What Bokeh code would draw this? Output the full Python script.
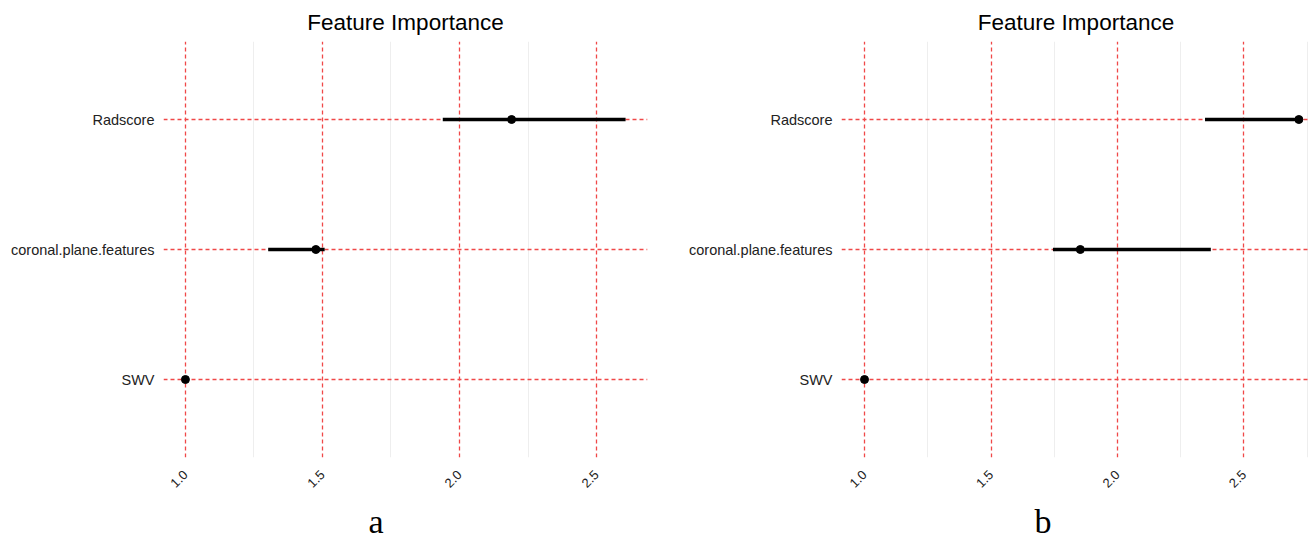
import math
from bokeh.plotting import figure
from bokeh.models import Range1d, FixedTicker, Title, ColumnDataSource, PrintfTickFormatter
from bokeh.layouts import row
from bokeh.embed import file_html
from bokeh.resources import INLINE

# ---- data ----
features = ["SWV", "coronal.plane.features", "Radscore"]
feature_pos = [1, 2, 3]

a_importance = [1.0, 1.476, 2.19]
a_lower = [1.0, 1.302, 1.939]
a_upper = [1.0, 1.508, 2.606]

b_importance = [1.0, 1.853, 2.717]
b_lower = [1.0, 1.745, 2.346]
b_upper = [1.0, 2.369, 2.717]

x_ticks = [1.0, 1.5, 2.0, 2.5]
x_minor = [1.25, 1.75, 2.25, 2.75]
panel_labels = ["a", "b"]
title_text = "Feature Importance"

RED = "#f04848"
SANS = "Liberation Sans"


def make_panel(imp, lo, hi, x_start, x_end, border_left, frame_w, border_right, label, label_offset):
    src = ColumnDataSource(dict(y=feature_pos, imp=imp, lo=lo, hi=hi))
    p = figure(
        output_backend="svg", toolbar_location=None,
        frame_width=frame_w, frame_height=416,
        min_border_left=border_left, min_border_right=border_right,
        min_border_top=40, min_border_bottom=85,
        x_range=Range1d(x_start, x_end), y_range=Range1d(0.4, 3.6),
        background_fill_color="white", border_fill_color="white",
    )
    p.outline_line_color = None
    p.title.text = title_text
    p.title.align = "center"
    p.title.text_font = SANS
    p.title.text_font_size = "22.5px"
    p.title.text_font_style = "normal"
    p.title.text_color = "black"
    p.title.text_line_height = 0.8
    p.title.standoff = 14

    # grids
    p.xaxis.ticker = FixedTicker(ticks=x_ticks, minor_ticks=x_minor)
    p.xaxis.formatter = PrintfTickFormatter(format="%.1f")
    p.yaxis.ticker = FixedTicker(ticks=feature_pos)
    for g in (p.xgrid, p.ygrid):
        g.grid_line_color = RED
        g.grid_line_dash = "4 3"
        g.grid_line_width = 1.3
    p.xgrid.minor_grid_line_color = "#eeeeee"
    p.xgrid.minor_grid_line_width = 1

    # axes
    p.yaxis.major_label_overrides = {k: v for k, v in zip(feature_pos, features)}
    for ax in (p.xaxis, p.yaxis):
        ax.axis_line_color = None
        ax.major_tick_line_color = None
        ax.minor_tick_line_color = None
        ax.major_tick_in = 0
        ax.major_tick_out = 0
        ax.major_label_text_font = SANS
        ax.major_label_text_color = "#222222"
    p.yaxis.major_label_text_font_size = "14.5px"
    p.xaxis.major_label_text_font_size = "13px"
    p.yaxis.major_label_standoff = 9
    p.xaxis.major_label_standoff = 11
    p.xaxis.major_label_orientation = math.pi / 4

    # marks
    p.segment(x0="lo", y0="y", x1="hi", y1="y", source=src, line_color="black", line_width=3.5)
    p.scatter(x="imp", y="y", source=src, size=8, fill_color="black", line_color="black")

    # panel letter
    p.add_layout(Title(text=label, align="left", offset=label_offset,
                       text_font="Liberation Serif", text_font_size="34px",
                       text_font_style="normal", text_color="black",
                       text_line_height=0.9, standoff=13), "below")
    return p


pa = make_panel(a_importance, a_lower, a_upper, 0.92, 2.686, 163, 484, 8, panel_labels[0], 205)
pb = make_panel(b_importance, b_lower, b_upper, 0.909, 2.763, 186, 469, 0, panel_labels[1], 193)

layout = row(pa, pb)
open("out.html", "w").write(file_html(layout, INLINE))
